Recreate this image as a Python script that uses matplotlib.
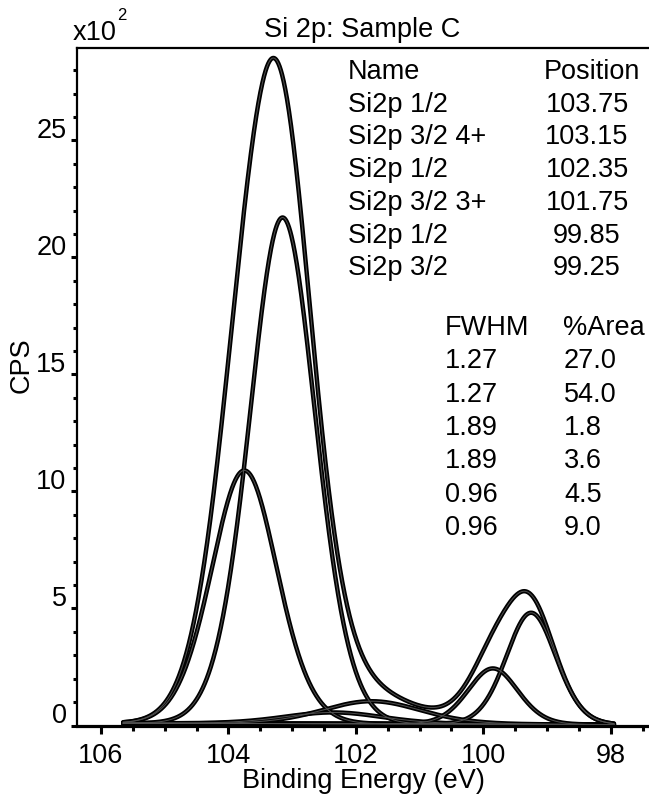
import numpy as np
import matplotlib
matplotlib.use("Agg")
import matplotlib.pyplot as plt
from matplotlib.ticker import MultipleLocator, FixedLocator
from matplotlib.transforms import ScaledTranslation

# ---- fit components (Si 2p, sample C) ----
names = ["Si2p 1/2", "Si2p 3/2 4+", "Si2p 1/2", "Si2p 3/2 3+", "Si2p 1/2", "Si2p 3/2"]
positions = [103.75, 103.15, 102.35, 101.75, 99.85, 99.25]   # eV
fwhm = [1.27, 1.27, 1.89, 1.89, 0.96, 0.96]                   # eV
area_pct = [27.0, 54.0, 1.8, 3.6, 4.5, 9.0]                   # %
total_area = 53.0          # CPS*eV / 100 under all components
gl_mix = 30                # Gaussian/Lorentzian mix, GL(30)
region = [105.65, 97.95]   # fitted energy region (eV)
background_ends = [0.10, 0.04]  # background at region start / end (x100 CPS)

x_ticks = [106, 104, 102, 100, 98]
y_ticks = [0, 5, 10, 15, 20, 25]

FONT = "Liberation Sans"
FS = 19.5
plt.rcParams["font.family"] = [FONT, "DejaVu Sans"]

W, H = 649, 797


def px(x, y):
    return x / W, 1 - y / H


def gl_product(e, center, width, mix):
    m = mix / 100.0
    d2 = (e - center) ** 2 / width ** 2
    return np.exp(-4 * np.log(2) * (1 - m) * d2) / (1 + 4 * m * d2)


fig = plt.figure(figsize=(W / 100, H / 100), dpi=100)
ax = fig.add_axes([77 / W, (H - 725.5) / H, (W - 77) / W, (725.5 - 48) / H])

energy = np.linspace(region[0], region[1], 1200)
background = np.linspace(background_ends[0], background_ends[1], energy.size)

wide = np.linspace(-60, 60, 200001)
components = []
for pos, fw, pct in zip(positions, fwhm, area_pct):
    unit_area = np.trapezoid(gl_product(wide, 0.0, fw, gl_mix), wide)
    height = total_area * pct / 100.0 / unit_area
    components.append(height * gl_product(energy, pos, fw, gl_mix))

envelope = background + np.sum(components, axis=0)

curves = [background] + [background + c for c in components] + [envelope]
for curve in curves:
    ax.plot(energy, curve, color="black", lw=3.2,
            solid_capstyle="round", solid_joinstyle="round")
for curve in curves:
    ax.plot(energy, curve, color="#505050", lw=0.7)

ax.set_xlim(106.376, 97.40)
ax.set_ylim(0, 28.95)

ax.spines["right"].set_visible(False)
ax.spines["left"].set_linewidth(1.6)
ax.spines["top"].set_linewidth(1.6)
ax.spines["bottom"].set_linewidth(2.3)

ax.xaxis.set_major_locator(FixedLocator(x_ticks))
ax.xaxis.set_minor_locator(MultipleLocator(0.5))
ax.yaxis.set_major_locator(FixedLocator(y_ticks))
ax.yaxis.set_minor_locator(MultipleLocator(1))
ax.set_xticklabels([str(v) for v in x_ticks])
ax.set_yticklabels([str(v) for v in y_ticks])

ax.tick_params(axis="x", which="major", direction="out", length=6, width=2.2,
               pad=6.5, labelsize=FS)
ax.tick_params(axis="x", which="minor", direction="out", length=3.5, width=2.2)
ax.tick_params(axis="y", which="major", direction="out", length=4.5, width=2.2,
               pad=3, labelsize=FS)
ax.tick_params(axis="y", which="minor", direction="out", length=3, width=2.2)

# y tick labels sit just above their ticks
lift = ScaledTranslation(0, 2 / 72, fig.dpi_scale_trans)
for lab in ax.get_yticklabels():
    lab.set_verticalalignment("baseline")
    lab.set_transform(lab.get_transform() + lift)

ax.set_xlabel("Binding Energy (eV)", fontsize=FS, labelpad=-0.5)

# title, y-axis label and scale factor
fig.text(*px(362, 30), "Si 2p: Sample C", fontsize=FS, ha="center", va="center")
fig.text(*px(22, 365), "CPS", fontsize=FS, rotation=90, ha="center", va="center")
fig.text(*px(73, 33), "x10", fontsize=FS, ha="left", va="center")
fig.text(*px(117, 16), "2", fontsize=12, ha="left", va="center")

# parameter tables
row_h1 = 32.7
fig.text(*px(348, 72), "Name", fontsize=FS, ha="left", va="center")
fig.text(*px(592, 72), "Position", fontsize=FS, ha="center", va="center")
for i, (nm, pos) in enumerate(zip(names, positions)):
    y = 72 + row_h1 * (i + 1)
    fig.text(*px(348, y), nm, fontsize=FS, ha="left", va="center")
    fig.text(*px(587, y), f"{pos:.2f}", fontsize=FS, ha="center", va="center")

row_h2 = 33.3
fig.text(*px(445, 328), "FWHM", fontsize=FS, ha="left", va="center")
fig.text(*px(563, 328), "%Area", fontsize=FS, ha="left", va="center")
for i, (fw, pct) in enumerate(zip(fwhm, area_pct)):
    y = 328 + row_h2 * (i + 1)
    fig.text(*px(445, y), f"{fw:.2f}", fontsize=FS, ha="left", va="center")
    fig.text(*px(564, y), f"{pct:.1f}", fontsize=FS, ha="left", va="center")

fig.savefig("out.png", dpi=100)
